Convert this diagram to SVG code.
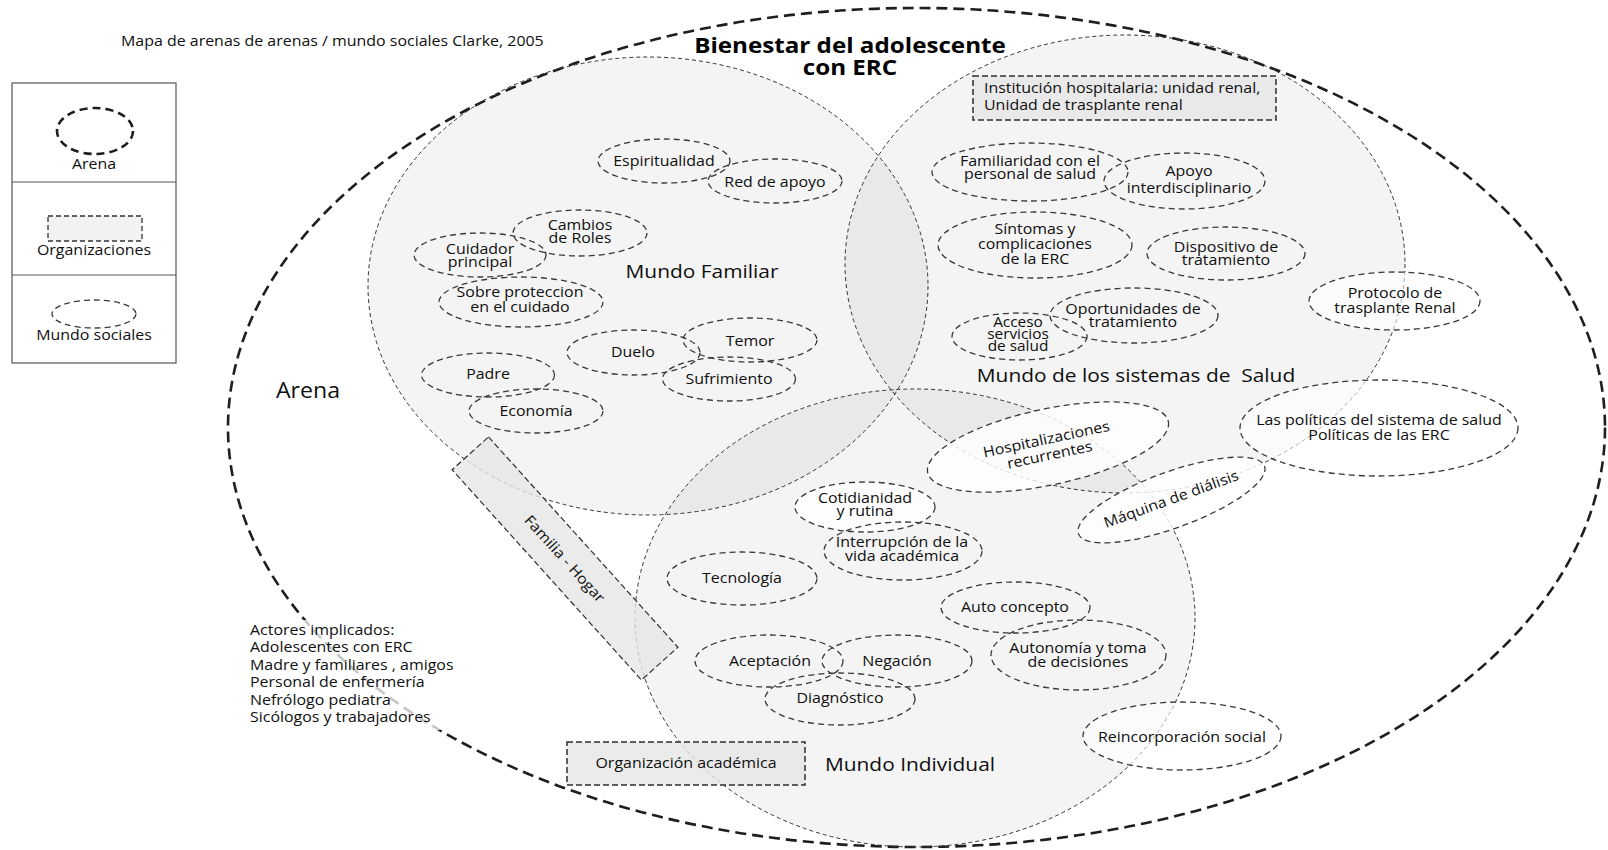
<svg xmlns="http://www.w3.org/2000/svg" width="1608" height="850" viewBox="0 0 1608 850">
  <style>
    text { font-family: "Open Sans", "Liberation Sans", sans-serif; font-size: 14.5px; fill: #0f0f0f; text-anchor: middle; transform-box: fill-box; transform-origin: center; transform: scaleX(1.1); }
    text.l { text-anchor: start; transform-origin: left center; }
    text.world { font-size: 19px; }
    text.head { font-size: 22px; font-weight: bold; fill: #000; }
    .arena { fill: none; stroke: #1e1e1e; stroke-width: 2.6; stroke-dasharray: 11 6; }
    .mundo { fill: #000; fill-opacity: 0.045; stroke: #333; stroke-width: 1; stroke-dasharray: 4 3; }
    .sw { fill: none; stroke: #383838; stroke-width: 1.3; stroke-dasharray: 6 4; }
    .sw.soft { fill: #fff; fill-opacity: 0.6; }
    .sw.white { fill: #fff; fill-opacity: 0.82; }
    .org { fill: #e6e6e6; fill-opacity: 0.8; stroke: #2e2e2e; stroke-width: 1.5; stroke-dasharray: 6 3; }
    .legend-box { fill: #fff; stroke: #555; stroke-width: 1.2; }
  </style>

  <!-- caption -->
  <text class="l" x="121" y="46">Mapa de arenas de arenas / mundo sociales Clarke, 2005</text>

  <!-- legend -->
  <g id="legend">
    <rect class="legend-box" x="12" y="83" width="164" height="280"/>
    <line x1="12" y1="182" x2="176" y2="182" stroke="#555" stroke-width="1.2"/>
    <line x1="12" y1="275" x2="176" y2="275" stroke="#555" stroke-width="1.2"/>
    <ellipse cx="95" cy="131" rx="38" ry="23" fill="none" stroke="#1e1e1e" stroke-width="2.6" stroke-dasharray="8 5"/>
    <text x="94" y="169">Arena</text>
    <rect x="48" y="216" width="94" height="25" fill="#f2f2f2" stroke="#333" stroke-width="1.3" stroke-dasharray="5 3"/>
    <text x="94" y="255">Organizaciones</text>
    <ellipse class="sw" cx="94" cy="314" rx="42" ry="14"/>
    <text x="94" y="340">Mundo sociales</text>
  </g>

  <!-- arena -->
  <g id="arena">
    <ellipse class="arena" cx="916.5" cy="427.5" rx="688.5" ry="419.5"/>
    <text x="308" y="398" style="font-size:21px">Arena</text>
    <text class="head" x="850" y="53">Bienestar del adolescente</text>
    <text class="head" x="850" y="75">con ERC</text>
  </g>

  <!-- social worlds -->
  <g id="mundo-familiar">
    <ellipse class="mundo" cx="648" cy="286" rx="280" ry="229"/>
  </g>
  <g id="mundo-salud">
    <ellipse class="mundo" cx="1125" cy="264" rx="280" ry="229"/>
  </g>
  <g id="mundo-individual">
    <ellipse class="mundo" cx="915" cy="618" rx="280" ry="229"/>
  </g>
  <text class="world" x="702" y="278">Mundo Familiar</text>
  <text class="world" x="1136" y="382" xml:space="preserve">Mundo de los sistemas de  Salud</text>
  <text class="world" x="910" y="771">Mundo Individual</text>

  <!-- organizations -->
  <g id="org-familia-hogar" transform="rotate(48 565 558.5)">
    <rect class="org" x="423.5" y="534" width="283" height="49" style="stroke-width:1.2"/>
    <text x="565" y="564">Familia - Hogar</text>
  </g>
  <g id="org-institucion">
    <rect class="org" x="973" y="76" width="303" height="44"/>
    <text class="l" x="984" y="93">Institución hospitalaria: unidad renal,</text>
    <text class="l" x="984" y="110">Unidad de trasplante renal</text>
  </g>
  <g id="org-academica">
    <rect class="org" x="567" y="742" width="238" height="43"/>
    <text x="686" y="768">Organización académica</text>
  </g>

  <!-- family world -->
  <g id="espiritualidad"><ellipse class="sw" cx="664" cy="161" rx="66" ry="22"/><text x="664" y="166">Espiritualidad</text></g>
  <g id="red-apoyo"><ellipse class="sw" cx="775" cy="181" rx="67" ry="22"/><text x="775" y="187">Red de apoyo</text></g>
  <g id="cambios-roles"><ellipse class="sw" cx="580" cy="233" rx="67" ry="23"/><text x="580"><tspan x="580" y="230">Cambios</tspan><tspan x="580" y="243">de Roles</tspan></text></g>
  <g id="cuidador"><ellipse class="sw" cx="480" cy="255" rx="66" ry="22"/><text x="480"><tspan x="480" y="254">Cuidador</tspan><tspan x="480" y="267">principal</tspan></text></g>
  <g id="sobreproteccion"><ellipse class="sw" cx="521" cy="302" rx="82" ry="25"/><text x="520"><tspan x="520" y="297">Sobre proteccion</tspan><tspan x="520" y="312">en el cuidado</tspan></text></g>
  <g id="duelo"><ellipse class="sw" cx="633.5" cy="352.5" rx="66.5" ry="22.5"/><text x="633" y="357">Duelo</text></g>
  <g id="temor"><ellipse class="sw" cx="750" cy="340" rx="67" ry="22"/><text x="750" y="346">Temor</text></g>
  <g id="sufrimiento"><ellipse class="sw" cx="729" cy="379" rx="66.5" ry="22"/><text x="729" y="384">Sufrimiento</text></g>
  <g id="padre"><ellipse class="sw" cx="488" cy="375" rx="66.5" ry="22"/><text x="488" y="379">Padre</text></g>
  <g id="economia"><ellipse class="sw" cx="536" cy="411" rx="67" ry="22"/><text x="536" y="416">Economía</text></g>

  <!-- health system world -->
  <g id="familiaridad"><ellipse class="sw" cx="1030" cy="172" rx="98" ry="29"/><text x="1030"><tspan x="1030" y="166">Familiaridad con el</tspan><tspan x="1030" y="179">personal de salud</tspan></text></g>
  <g id="apoyo-interdisciplinario"><ellipse class="sw" cx="1184.5" cy="181" rx="80.5" ry="28"/><text x="1189"><tspan x="1189" y="176.5">Apoyo</tspan><tspan x="1189" y="193">interdisciplinario</tspan></text></g>
  <g id="sintomas"><ellipse class="sw" cx="1035" cy="245" rx="97" ry="33"/><text x="1035"><tspan x="1035" y="234">Síntomas y</tspan><tspan x="1035" y="249.5">complicaciones</tspan><tspan x="1035" y="264">de la ERC</tspan></text></g>
  <g id="dispositivo"><ellipse class="sw" cx="1226" cy="253.5" rx="79" ry="26.5"/><text x="1226"><tspan x="1226" y="252">Dispositivo de</tspan><tspan x="1226" y="265">tratamiento</tspan></text></g>
  <g id="oportunidades"><ellipse class="sw" cx="1134" cy="315.5" rx="84" ry="27.5"/><text x="1133"><tspan x="1133" y="314">Oportunidades de</tspan><tspan x="1133" y="327">tratamiento</tspan></text></g>
  <g id="acceso"><ellipse class="sw" cx="1019.5" cy="336.5" rx="67.5" ry="23.5"/><text x="1018" style="font-size:14px"><tspan x="1018" y="327">Acceso</tspan><tspan x="1018" y="339">servicios</tspan><tspan x="1018" y="351">de salud</tspan></text></g>
  <g id="protocolo"><ellipse class="sw soft" cx="1394.5" cy="301" rx="85.5" ry="29"/><text x="1395"><tspan x="1395" y="298">Protocolo de</tspan><tspan x="1395" y="313">trasplante Renal</tspan></text></g>
  <g id="politicas"><ellipse class="sw soft" cx="1379" cy="428" rx="139" ry="48"/><text x="1379"><tspan x="1379" y="425">Las políticas del sistema de salud</tspan><tspan x="1379" y="440">Políticas de las ERC</tspan></text></g>
  <g id="hospitalizaciones" transform="rotate(-12 1048 447)"><ellipse class="sw white" cx="1048" cy="447" rx="123" ry="38"/><text x="1048"><tspan x="1048" y="444">Hospitalizaciones</tspan><tspan x="1048" y="460">recurrentes</tspan></text></g>
  <g id="maquina-dialisis" transform="rotate(-20 1171.5 500)"><ellipse class="sw white" cx="1171.5" cy="500" rx="99" ry="28"/><text x="1171.5" y="504">Máquina de diálisis</text></g>

  <!-- individual world -->
  <g id="cotidianidad"><ellipse class="sw white" cx="865" cy="507" rx="70" ry="25"/><text x="865"><tspan x="865" y="503">Cotidianidad</tspan><tspan x="865" y="516">y rutina</tspan></text></g>
  <g id="interrupcion"><ellipse class="sw" cx="903" cy="551" rx="79" ry="29"/><text x="902"><tspan x="902" y="547">Interrupción de la</tspan><tspan x="902" y="561">vida académica</tspan></text></g>
  <g id="tecnologia"><ellipse class="sw" cx="742" cy="578.5" rx="75" ry="26.5"/><text x="742" y="583">Tecnología</text></g>
  <g id="auto-concepto"><ellipse class="sw" cx="1015.5" cy="607.5" rx="74.5" ry="25.5"/><text x="1015" y="612">Auto concepto</text></g>
  <g id="autonomia"><ellipse class="sw" cx="1078.5" cy="655" rx="87.5" ry="35"/><text x="1078"><tspan x="1078" y="653">Autonomía y toma</tspan><tspan x="1078" y="667">de decisiones</tspan></text></g>
  <g id="aceptacion"><ellipse class="sw" cx="769" cy="661" rx="74" ry="26"/><text x="770" y="666">Aceptación</text></g>
  <g id="negacion"><ellipse class="sw" cx="897" cy="661" rx="75" ry="26"/><text x="897" y="666">Negación</text></g>
  <g id="diagnostico"><ellipse class="sw" cx="840" cy="699" rx="75" ry="26"/><text x="840" y="703">Diagnóstico</text></g>
  <g id="reincorporacion"><ellipse class="sw soft" cx="1182" cy="736" rx="99" ry="34"/><text x="1182" y="742">Reincorporación social</text></g>

  <!-- actors -->
  <g id="actores">
    <rect x="246" y="620" width="210" height="110" fill="#fff" fill-opacity="0.75"/>
    <text class="l" x="250" y="635">Actores implicados:</text>
    <text class="l" x="250" y="652.5">Adolescentes con ERC</text>
    <text class="l" x="250" y="670">Madre y familiares , amigos</text>
    <text class="l" x="250" y="687.5">Personal de enfermería</text>
    <text class="l" x="250" y="705">Nefrólogo pediatra</text>
    <text class="l" x="250" y="722.5">Sicólogos y trabajadores</text>
  </g>
</svg>
